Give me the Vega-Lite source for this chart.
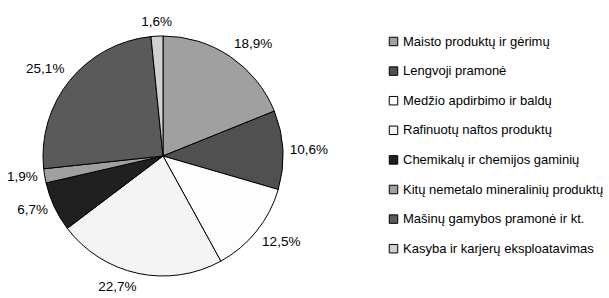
{
  "$schema": "https://vega.github.io/schema/vega-lite/v6.json",
  "width": 326,
  "height": 298,
  "padding": {"left": 0, "top": 7, "right": 0, "bottom": 0},
  "background": "white",
  "config": {"view": {"stroke": null}, "font": "Liberation Sans", "text": {"font": "Liberation Sans", "fontSize": 13.5, "color": "black", "radius": 127}},
  "data": {
    "values": [
      {"cat": "Maisto produktų ir gėrimų", "value": 18.9, "label": "18,9%", "ord": 1},
      {"cat": "Lengvoji pramonė", "value": 10.6, "label": "10,6%", "ord": 2},
      {"cat": "Medžio apdirbimo ir baldų", "value": 12.5, "label": "12,5%", "ord": 3},
      {"cat": "Rafinuotų naftos produktų", "value": 22.7, "label": "22,7%", "ord": 4},
      {"cat": "Chemikalų ir chemijos gaminių", "value": 6.7, "label": "6,7%", "ord": 5},
      {"cat": "Kitų nemetalo mineralinių produktų", "value": 1.9, "label": "1,9%", "ord": 6},
      {"cat": "Mašinų gamybos pramonė ir kt.", "value": 25.1, "label": "25,1%", "ord": 7},
      {"cat": "Kasyba ir karjerų eksploatavimas", "value": 1.6, "label": "1,6%", "ord": 8}
    ]
  },
  "encoding": {
    "theta": {"field": "value", "type": "quantitative", "stack": true},
    "order": {"field": "ord", "type": "quantitative"}
  },
  "layer": [
    {
      "mark": {"type": "arc", "outerRadius": 120, "stroke": "black", "strokeWidth": 1},
      "encoding": {
        "color": {
          "field": "cat",
          "type": "nominal",
          "sort": null,
          "scale": {
            "domain": ["Maisto produktų ir gėrimų", "Lengvoji pramonė", "Medžio apdirbimo ir baldų", "Rafinuotų naftos produktų", "Chemikalų ir chemijos gaminių", "Kitų nemetalo mineralinių produktų", "Mašinų gamybos pramonė ir kt.", "Kasyba ir karjerų eksploatavimas"],
            "range": ["#a0a0a0", "#505050", "#fdfdfd", "#f4f4f4", "#202020", "#a0a0a0", "#5a5a5a", "#d0d0d0"]
          },
          "legend": {
            "title": null,
            "orient": "none",
            "legendX": 387,
            "legendY": 28,
            "symbolType": "square",
            "symbolSize": 72,
            "symbolStrokeColor": "black",
            "symbolStrokeWidth": 1,
            "labelFont": "Liberation Sans",
            "labelFontSize": 13,
            "labelColor": "black",
            "labelOffset": 3,
            "rowPadding": 15.6,
            "labelLimit": 300
          }
        }
      }
    },
    {
      "mark": {"type": "text", "align": "left", "baseline": "bottom"},
      "encoding": {"text": {"condition": {"test": "datum.ord == 1", "field": "label"}, "value": ""}}
    },
    {
      "mark": {"type": "text", "align": "left", "baseline": "middle"},
      "encoding": {"text": {"condition": {"test": "datum.ord == 2", "field": "label"}, "value": ""}}
    },
    {
      "mark": {"type": "text", "align": "left", "baseline": "top"},
      "encoding": {"text": {"condition": {"test": "datum.ord == 3", "field": "label"}, "value": ""}}
    },
    {
      "mark": {"type": "text", "align": "right", "baseline": "top"},
      "encoding": {"text": {"condition": {"test": "datum.ord == 4", "field": "label"}, "value": ""}}
    },
    {
      "mark": {"type": "text", "align": "right", "baseline": "middle"},
      "encoding": {"text": {"condition": {"test": "datum.ord == 5 || datum.ord == 6", "field": "label"}, "value": ""}}
    },
    {
      "mark": {"type": "text", "align": "right", "baseline": "bottom"},
      "encoding": {"text": {"condition": {"test": "datum.ord == 7", "field": "label"}, "value": ""}}
    },
    {
      "mark": {"type": "text", "align": "center", "baseline": "bottom"},
      "encoding": {"text": {"condition": {"test": "datum.ord == 8", "field": "label"}, "value": ""}}
    }
  ]
}
